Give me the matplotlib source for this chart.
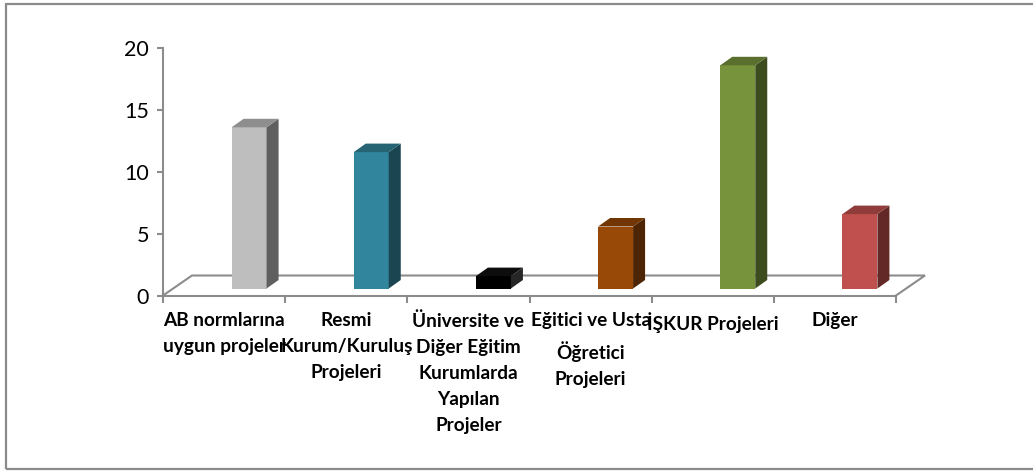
import numpy as np
import matplotlib.pyplot as plt
from matplotlib.patches import Polygon, Rectangle

plt.rcParams['font.family'] = ['Lato', 'DejaVu Sans']

# data
categories = ["AB normlarına\nuygun projeler",
              "Resmi\nKurum/Kuruluş\nProjeleri",
              "Üniversite ve\nDiğer Eğitim\nKurumlarda\nYapılan\nProjeler",
              "Eğitici ve Usta\nÖğretici\nProjeleri",
              "İŞKUR Projeleri",
              "Diğer"]
values = [13, 11, 1, 5, 18, 6]
yticks = [0, 5, 10, 15, 20]

front_colors = ['#BEBEBE', '#31859C', '#000000', '#984807', '#77933C', '#C0504D']
side_colors = ['#5F5F5F', '#1B4550', '#262626', '#4E2504', '#3D4C1F', '#632927']
top_colors = ['#8E8E8E', '#266473', '#0D0D0D', '#723605', '#5A6E2D', '#903C3A']

W, H = 1033, 474
fig = plt.figure(figsize=(W / 100, H / 100), dpi=100)

# axes placed in pixels (front plane of the fake 3d box)
left, right, bottom, top = 163, 896, 295.5, 47.5
ax = fig.add_axes([left / W, (H - bottom) / H, (right - left) / W, (bottom - top) / H])
n = len(values)
ax.set_xlim(-0.5, n - 0.5)
ax.set_ylim(0, 20)

# pixel -> data unit conversion
ux = (right - left) / n
uy = (bottom - top) / 20.0

gray = '#8C8C8C'

# floor outline
fdx, fdy = 29 / ux, 20 / uy
x0, x1 = -0.5, n - 0.5
ax.plot([x0, x0 + fdx, x1 + fdx, x1], [0, fdy, fdy, 0], color=gray, lw=1.5,
        zorder=1, clip_on=False, solid_joinstyle='miter')

# bars: front face + side + top
x = np.arange(n)
bw = 35 / ux
shift = 25 / ux
base = 7 / uy
ddx, ddy = 12 / ux, 8.5 / uy
bars = ax.bar(x + shift, values, width=bw, bottom=base, color=front_colors,
              zorder=3, clip_on=False)
for i, b in enumerate(bars):
    bx0 = b.get_x()
    bx1 = bx0 + b.get_width()
    by0 = b.get_y()
    by1 = by0 + b.get_height()
    side = Polygon([(bx1, by0), (bx1 + ddx, by0 + ddy), (bx1 + ddx, by1 + ddy), (bx1, by1)],
                   closed=True, facecolor=side_colors[i], edgecolor='none', zorder=3, clip_on=False)
    topf = Polygon([(bx0, by1), (bx1, by1), (bx1 + ddx, by1 + ddy), (bx0 + ddx, by1 + ddy)],
                   closed=True, facecolor=top_colors[i], edgecolor='none', zorder=3, clip_on=False)
    ax.add_patch(side)
    ax.add_patch(topf)

# axes styling
for s in ['top', 'right']:
    ax.spines[s].set_visible(False)
for s in ['left', 'bottom']:
    ax.spines[s].set_color(gray)
    ax.spines[s].set_linewidth(1.5)

ax.set_yticks(yticks)
ax.tick_params(axis='y', length=4, width=1.5, color=gray, labelsize=15.5, pad=6)
ax.set_xticks(x)
ax.set_xticklabels(categories, fontweight='bold', fontsize=13.7, linespacing=1.65)
ax.set_xticks(np.arange(n + 1) - 0.5, minor=True)
ax.tick_params(axis='x', which='major', length=0, pad=12)
ax.tick_params(axis='x', which='minor', length=5, width=1.5, color=gray)
for t in ax.get_xticklabels():
    t.set_verticalalignment('top')
    t.set_horizontalalignment('center')
    t.set_multialignment('center')

# outer chart frame
fig.add_artist(Rectangle((6 / W, (H - 469) / H), (W + 10) / W, (469 - 4) / H,
                         transform=fig.transFigure, fill=False, edgecolor='#8A8A8A', lw=1.6))

fig.savefig('out.png', dpi=100)
